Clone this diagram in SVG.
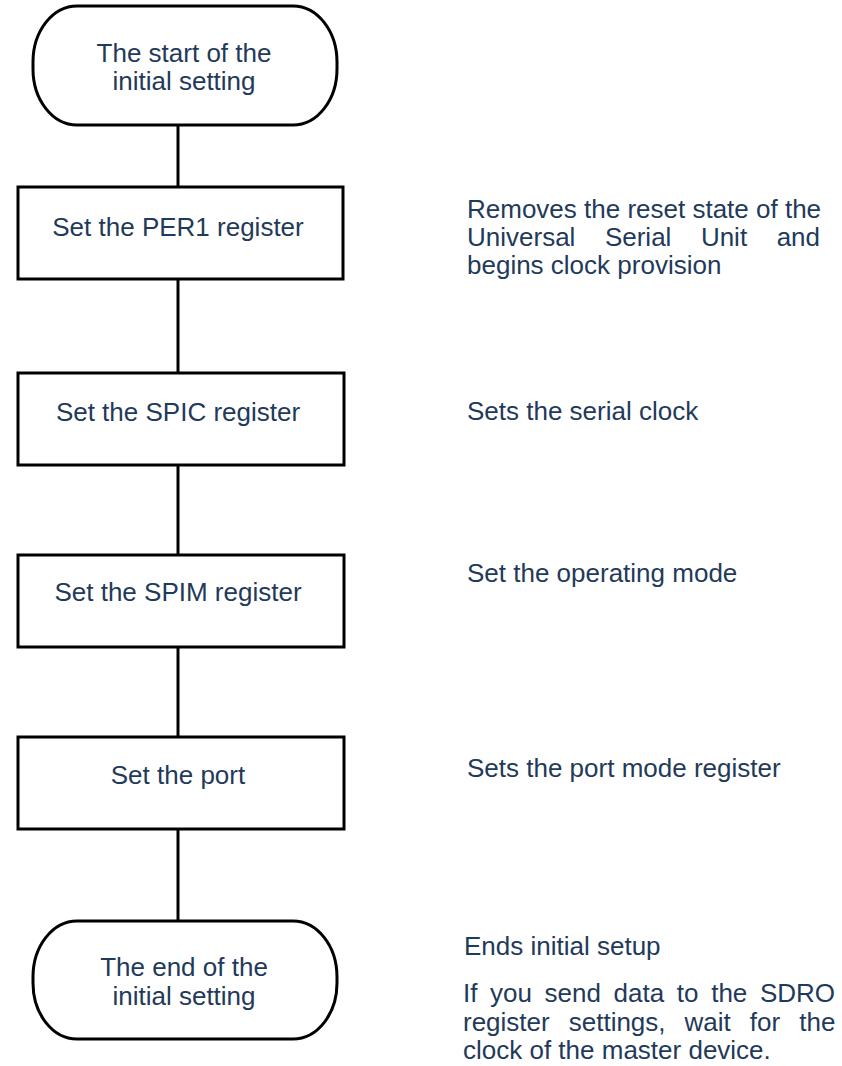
<svg xmlns="http://www.w3.org/2000/svg" width="842" height="1066" viewBox="0 0 842 1066">
<style>
.shape{fill:#ffffff;stroke:#000000;stroke-width:3}
.conn{stroke:#000000;stroke-width:3;fill:none}
text{font-family:"Liberation Sans",Arial,sans-serif;font-size:26px;fill:#1f3a5a}
.c{text-anchor:middle}
</style>
<rect width="842" height="1066" fill="#ffffff"/>
<g id="connectors">
<line class="conn" x1="178" y1="125" x2="178" y2="187"/>
<line class="conn" x1="178" y1="279" x2="178" y2="373"/>
<line class="conn" x1="178" y1="465" x2="178" y2="555"/>
<line class="conn" x1="178" y1="647" x2="178" y2="737"/>
<line class="conn" x1="178" y1="829" x2="178" y2="921"/>
</g>
<g id="start">
<rect class="shape" x="33" y="6" width="304" height="119" rx="44" ry="56"/>
<text class="c" x="184" y="62">The start of the</text>
<text class="c" x="184" y="90">initial setting</text>
</g>
<g id="per1">
<rect class="shape" x="18" y="187" width="325" height="92"/>
<text class="c" x="178" y="236">Set the PER1 register</text>
</g>
<g id="spic">
<rect class="shape" x="18" y="373" width="326" height="92"/>
<text class="c" x="178" y="421">Set the SPIC register</text>
</g>
<g id="spim">
<rect class="shape" x="18" y="555" width="326" height="92"/>
<text class="c" x="178" y="601">Set the SPIM register</text>
</g>
<g id="port">
<rect class="shape" x="18" y="737" width="326" height="92"/>
<text class="c" x="178" y="784">Set the port</text>
</g>
<g id="end">
<rect class="shape" x="33" y="921" width="304" height="118" rx="44" ry="56"/>
<text class="c" x="184" y="976">The end of the</text>
<text class="c" x="184" y="1005">initial setting</text>
</g>
<g id="notes">
<text x="467" y="218">Removes the reset state of the</text>
<text x="467" y="246" word-spacing="22.3">Universal Serial Unit and</text>
<text x="467" y="274">begins clock provision</text>
<text x="467" y="420">Sets the serial clock</text>
<text x="467" y="582">Set the operating mode</text>
<text x="467" y="777">Sets the port mode register</text>
<text x="464" y="955">Ends initial setup</text>
<text x="463" y="1002" word-spacing="5.4">If you send data to the SDRO</text>
<text x="463" y="1031" word-spacing="11.8">register settings, wait for the</text>
<text x="463" y="1059">clock of the master device.</text>
</g>
</svg>
